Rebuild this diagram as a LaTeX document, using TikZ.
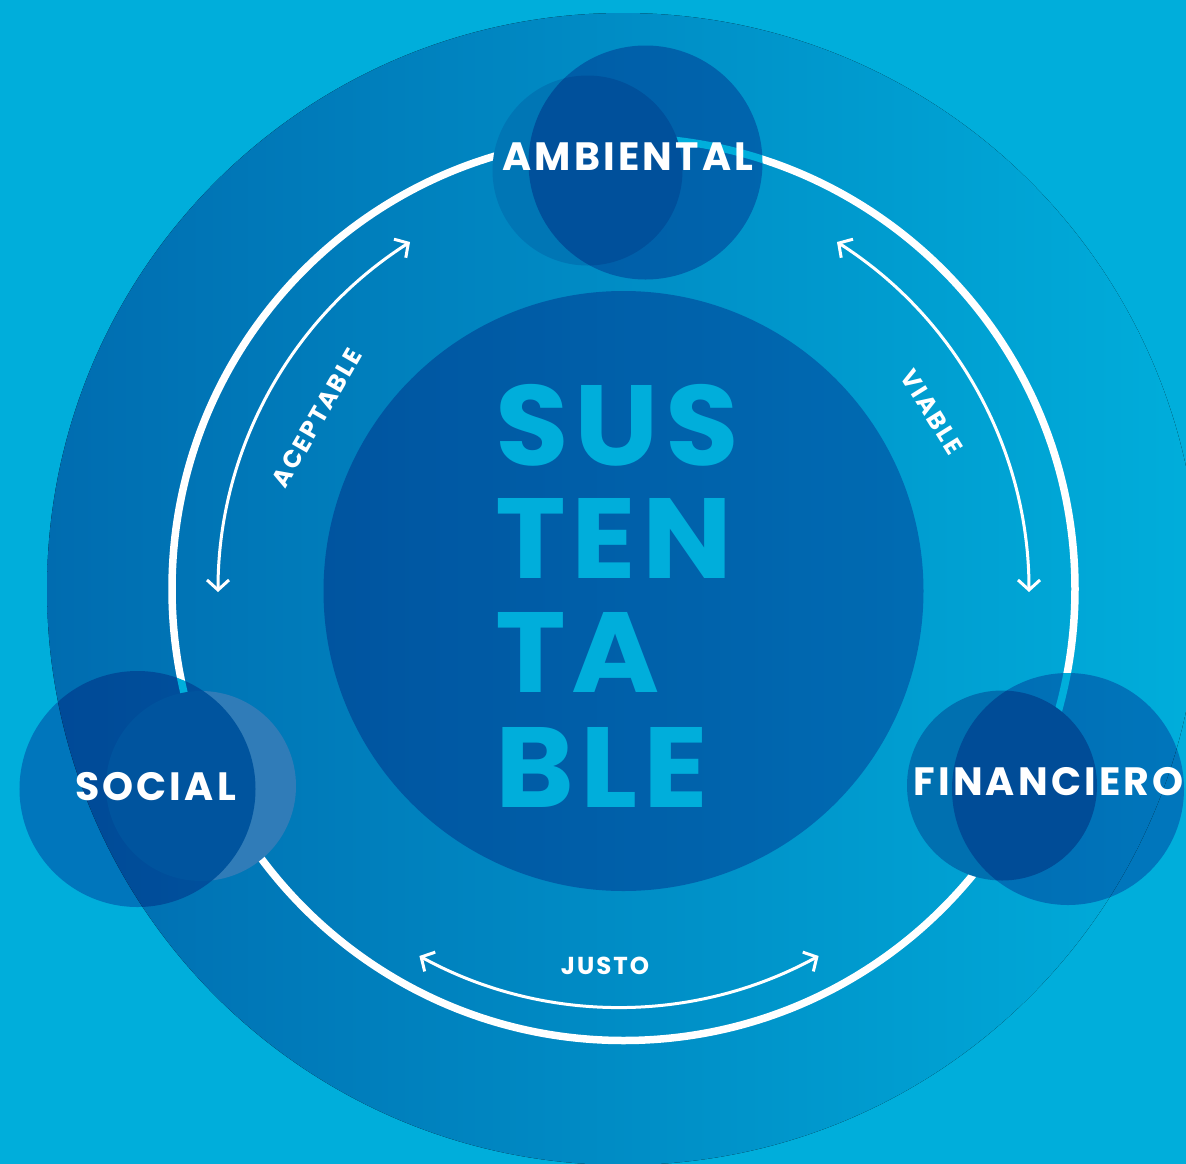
\documentclass[tikz,border=0pt]{standalone}
\usepackage{fontspec}
\setmainfont{Poppins}
\newfontfamily\labfont{Poppins}[LetterSpace=8]
\newfontfamily\susfont{Poppins}[LetterSpace=5]
\usetikzlibrary{arrows.meta}
\definecolor{bgc}{RGB}{0,174,219}
\definecolor{outL}{RGB}{0,108,176}
\definecolor{outR}{RGB}{0,174,219}
\definecolor{aone}{RGB}{0,118,181}
\definecolor{stwo}{RGB}{48,124,184}
\definecolor{fone}{RGB}{0,112,176}
\tikzset{
  ringline/.style={draw=white, line width=7.5bp},
  arr/.style={draw=white, line width=3bp,
    {Straight Barb[length=10bp,width=22bp]}-{Straight Barb[length=10bp,width=22bp]}},
  solidsat/.style={circle, inner sep=0pt, minimum size=190bp},
  mulsat/.style={circle, inner sep=0pt, fill=bgc},
  biglab/.style={text=white, inner sep=0pt, font=\labfont\bfseries\fontsize{39.5bp}{41bp}\selectfont},
  smalllab/.style={text=white, inner sep=0pt, font=\labfont\bfseries\fontsize{24.5bp}{26bp}\selectfont},
  sustxt/.style={text=bgc, inner sep=0pt, anchor=base west, xscale=1.05, font=\susfont\bfseries\fontsize{114bp}{114bp}\selectfont}
}
\begin{document}
\begin{tikzpicture}[x=1bp,y=-1bp]
\useasboundingbox (0,0) rectangle (1186,1164);
\clip (0,0) rectangle (1186,1164);
\fill[bgc] (0,0) rectangle (1186,1164);
% outer disc
\coordinate (ctr) at (623.5,589);
\fill[left color=outL, right color=outR] (623,589) circle[radius=576];
% inner disc
\begin{scope}[blend mode=multiply]
\fill[bgc] (623.5,591) circle[radius=300];
\end{scope}
% ring
\draw[ringline] (ctr) circle[radius=451.5];
% arrows
\coordinate (acB) at (218,592);
\coordinate (viB) at (1029,592);
\coordinate (juR) at (818.6,956);
\draw[arr] (acB) arc[start angle=180, end angle=237.5, radius=415];
\draw[arr] (viB) arc[start angle=0, end angle=-57.5, radius=415];
\draw[arr] (juR) arc[start angle=61.25, end angle=118.75, radius=415];
% solid satellite circles
\node[solidsat, fill=aone] (A1) at (587.5,170.5) {};
\node[solidsat, fill=stwo] (S2) at (201,786) {};
\node[solidsat, fill=fone] (F1) at (1002,785.5) {};
% multiply satellite circles
\begin{scope}[blend mode=multiply]
\node[mulsat, minimum size=234bp] (A2) at (645.5,162.5) {};
\node[mulsat, minimum size=236bp] (S1) at (137.5,789) {};
\node[mulsat, minimum size=232bp] (F2) at (1068,789) {};
\end{scope}
% centre word
\node[sustxt] (w1) at (495,465) {SUS};
\node[sustxt] (w2) at (495,578) {TEN};
\node[sustxt] (w3) at (495,692) {TA};
\node[sustxt] (w4) at (495,807) {BLE};
% labels
\node[biglab] (lAmb) at (628,157) {AMBIENTAL};
\node[biglab] (lSoc) at (155.5,787) {SOCIAL};
\node[biglab] (lFin) at (1048.5,782) {FINANCIERO};
\node[smalllab, rotate=60] (lAce) at (317,418) {ACEPTABLE};
\node[smalllab, rotate=-58] (lVia) at (932,412) {VIABLE};
\node[smalllab] (lJus) at (605,965.5) {JUSTO};
\end{tikzpicture}
\end{document}
